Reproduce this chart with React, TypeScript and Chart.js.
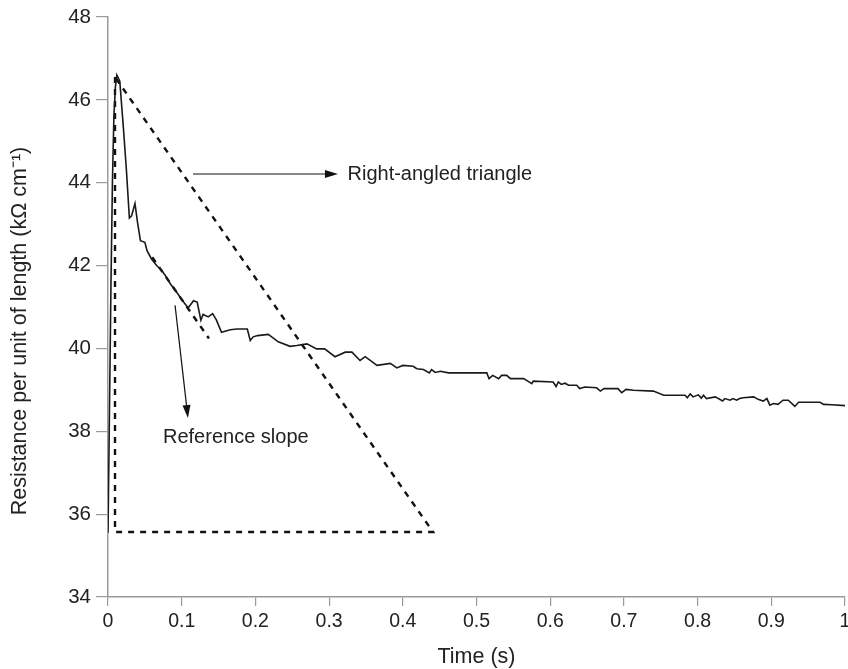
import React, { useEffect, useRef } from "react";
import { Chart, registerables } from "chart.js";

Chart.register(...registerables);

// Measured resistance curve
const timeS = [
  0.0, 0.002, 0.004, 0.006, 0.008, 0.01, 0.012, 0.016, 0.021, 0.025, 0.029, 0.032, 0.0366, 0.04, 0.044, 0.05,
  0.053, 0.059, 0.066, 0.073, 0.077, 0.085, 0.093, 0.1, 0.107, 0.109, 0.116, 0.121, 0.126, 0.129, 0.136, 0.142,
  0.147, 0.154, 0.166, 0.175, 0.189, 0.193, 0.197, 0.203, 0.2175, 0.231, 0.247, 0.256, 0.27, 0.283, 0.294, 0.308,
  0.322, 0.331, 0.342, 0.349, 0.365, 0.383, 0.392, 0.4, 0.414, 0.419, 0.428, 0.436, 0.439, 0.444, 0.451, 0.462,
  0.514, 0.517, 0.522, 0.53, 0.534, 0.541, 0.546, 0.564, 0.568, 0.575, 0.577, 0.604, 0.608, 0.611, 0.615, 0.62,
  0.625, 0.636, 0.64, 0.647, 0.663, 0.668, 0.673, 0.692, 0.697, 0.703, 0.713, 0.74, 0.754, 0.783, 0.786, 0.79,
  0.794, 0.801, 0.805, 0.808, 0.812, 0.824, 0.834, 0.837, 0.844, 0.848, 0.853, 0.857, 0.862, 0.876, 0.882, 0.889,
  0.894, 0.898, 0.903, 0.909, 0.916, 0.923, 0.932, 0.937, 0.966, 0.971, 0.982, 1.0,
];
const resistance = [
  35.55, 38.5, 41.5, 44.0, 45.6, 46.3, 46.6, 46.45, 45.3, 44.3, 43.15, 43.2, 43.5, 43.05, 42.6, 42.56,
  42.36, 42.16, 42.0, 41.88, 41.78, 41.55, 41.36, 41.18, 41.02, 40.98, 41.15, 41.12, 40.68, 40.82, 40.76, 40.84,
  40.69, 40.39, 40.45, 40.47, 40.47, 40.19, 40.28, 40.31, 40.34, 40.16, 40.05, 40.07, 40.11, 39.99, 39.99, 39.8,
  39.91, 39.91, 39.71, 39.8, 39.59, 39.64, 39.53, 39.59, 39.57, 39.51, 39.49, 39.41, 39.49, 39.42, 39.45, 39.41,
  39.41, 39.27, 39.35, 39.27, 39.35, 39.35, 39.27, 39.27, 39.23, 39.15, 39.21, 39.19, 39.08, 39.19, 39.13, 39.16,
  39.11, 39.11, 39.03, 39.07, 39.05, 38.97, 39.03, 39.03, 38.93, 39.01, 38.99, 38.97, 38.87, 38.87, 38.81, 38.9,
  38.83, 38.88, 38.8, 38.87, 38.79, 38.83, 38.73, 38.79, 38.75, 38.79, 38.75, 38.79, 38.81, 38.83, 38.77, 38.73,
  38.79, 38.63, 38.67, 38.65, 38.75, 38.75, 38.6, 38.7, 38.7, 38.65, 38.64, 38.62,
];

// Right-angled triangle (dashed)
const triangleT = [0.0095, 0.0095, 0.441, 0.0095];
const triangleR = [46.55, 35.57, 35.57, 46.55];

// Reference slope (dashed)
const slopeT = [0.06, 0.137];
const slopeR = [42.2, 40.24];

// Axis ticks
const xTicks = [0, 0.1, 0.2, 0.3, 0.4, 0.5, 0.6, 0.7, 0.8, 0.9, 1];
const yTicks = [34, 36, 38, 40, 42, 44, 46, 48];

// Annotations: arrows [x0, y0, x1, y1] and labels
const arrowTriangle = [0.1153, 44.21, 0.312, 44.21];
const arrowSlope = [0.091, 41.04, 0.1085, 38.32];
const labelTriangle = { text: "Right-angled triangle", t: 0.325, r: 44.21 };
const labelSlope = { text: "Reference slope", t: 0.0746, r: 37.86 };
const yTitle = "Resistance per unit of length (kΩ cm⁻¹)";
const xTitle = "Time (s)";

const FONT = "'Liberation Sans', Arial, Helvetica, sans-serif";
const TEXT = "#222";
const AXIS = "#9a9a9a";

const annotationPlugin = {
  id: "annotations",
  afterDatasetsDraw(chart: any) {
    const { ctx, chartArea } = chart;
    const xs = chart.scales.x;
    const ys = chart.scales.y;
    const drawArrow = (a: number[]) => {
      const x0 = xs.getPixelForValue(a[0]);
      const y0 = ys.getPixelForValue(a[1]);
      const x1 = xs.getPixelForValue(a[2]);
      const y1 = ys.getPixelForValue(a[3]);
      const ang = Math.atan2(y1 - y0, x1 - x0);
      const len = 13;
      const hw = 4;
      const bx = x1 - len * Math.cos(ang);
      const by = y1 - len * Math.sin(ang);
      ctx.save();
      ctx.strokeStyle = "#111";
      ctx.fillStyle = "#111";
      ctx.lineWidth = 1.2;
      ctx.beginPath();
      ctx.moveTo(x0, y0);
      ctx.lineTo(bx, by);
      ctx.stroke();
      ctx.beginPath();
      ctx.moveTo(x1, y1);
      ctx.lineTo(bx + hw * Math.sin(ang), by - hw * Math.cos(ang));
      ctx.lineTo(bx - hw * Math.sin(ang), by + hw * Math.cos(ang));
      ctx.closePath();
      ctx.fill();
      ctx.restore();
    };
    drawArrow(arrowTriangle);
    drawArrow(arrowSlope);
    ctx.save();
    ctx.fillStyle = TEXT;
    ctx.font = `20px ${FONT}`;
    ctx.textAlign = "left";
    ctx.textBaseline = "middle";
    for (const l of [labelTriangle, labelSlope]) {
      ctx.fillText(l.text, xs.getPixelForValue(l.t), ys.getPixelForValue(l.r));
    }
    // y-axis title
    ctx.font = `21.5px ${FONT}`;
    ctx.textAlign = "center";
    ctx.translate(20, (chartArea.top + chartArea.bottom) / 2 + 24);
    ctx.rotate(-Math.PI / 2);
    ctx.fillText(yTitle, 0, 0);
    ctx.restore();
  },
};

export default function App() {
  const ref = useRef<HTMLCanvasElement | null>(null);
  useEffect(() => {
    document.body.style.margin = "0";
    const canvas = ref.current;
    if (!canvas) return;
    const curve = timeS.map((t, i) => ({ x: t, y: resistance[i] }));
    const tri = triangleT.map((t, i) => ({ x: t, y: triangleR[i] }));
    const slope = slopeT.map((t, i) => ({ x: t, y: slopeR[i] }));
    const dashed = {
      borderColor: "#111",
      borderWidth: 2.4,
      borderDash: [6, 6],
      pointRadius: 0,
      tension: 0,
      fill: false,
    };
    const chart = new Chart(canvas, {
      type: "line",
      data: {
        datasets: [
          {
            data: curve,
            borderColor: "#1a1a1a",
            borderWidth: 1.6,
            pointRadius: 0,
            tension: 0,
            fill: false,
          },
          { data: tri, ...dashed },
          { data: slope, ...dashed },
        ],
      },
      options: {
        animation: false,
        responsive: false,
        maintainAspectRatio: false,
        events: [],
        layout: { padding: { top: 17, right: 3, left: 0, bottom: 0 } },
        plugins: { legend: { display: false }, tooltip: { enabled: false }, title: { display: false } },
        scales: {
          x: {
            type: "linear",
            min: 0,
            max: 1,
            afterBuildTicks: (s: any) => {
              s.ticks = xTicks.map((v) => ({ value: v }));
            },
            afterFit: (s: any) => {
              s.height = 72;
              s.paddingLeft = 0;
              s.paddingRight = 0;
            },
            ticks: {
              color: TEXT,
              font: { family: FONT, size: 19.5 },
              padding: 4,
              maxRotation: 0,
              autoSkip: false,
              callback: (v: any) => String(Number(Number(v).toFixed(1))),
            },
            grid: { drawOnChartArea: false, drawTicks: true, tickLength: 9, color: AXIS, lineWidth: 1.2 },
            border: { display: true, color: AXIS, width: 1.5 },
            title: {
              display: true,
              text: xTitle,
              color: TEXT,
              font: { family: FONT, size: 21.5 },
              padding: { top: 0, bottom: -1 },
            },
          },
          y: {
            type: "linear",
            min: 34,
            max: 48,
            afterBuildTicks: (s: any) => {
              s.ticks = yTicks.map((v) => ({ value: v }));
            },
            afterFit: (s: any) => {
              s.width = 108;
              s.paddingTop = 0;
              s.paddingBottom = 0;
            },
            ticks: {
              color: TEXT,
              font: { family: FONT, size: 20.5 },
              padding: 5,
              autoSkip: false,
            },
            grid: { drawOnChartArea: false, drawTicks: true, tickLength: 12, color: AXIS, lineWidth: 1.2 },
            border: { display: true, color: AXIS, width: 1.5 },
            title: { display: false },
          },
        },
      },
      plugins: [annotationPlugin],
    });
    return () => chart.destroy();
  }, []);
  return (
    <div style={{ width: 848, height: 669 }}>
      <canvas ref={ref} width={848} height={669} style={{ display: "block", width: 848, height: 669 }} />
    </div>
  );
}
